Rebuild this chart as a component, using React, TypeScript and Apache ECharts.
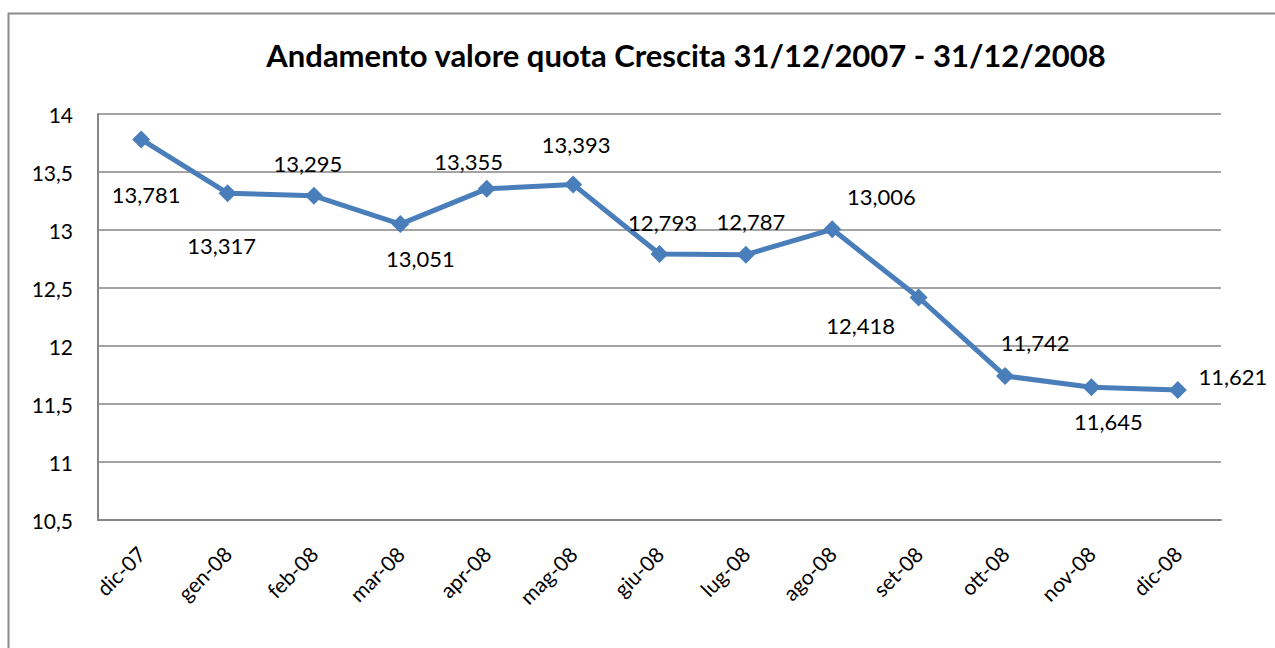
import React, { useEffect, useRef } from "react";
import * as echarts from "echarts";

const categories = ["dic-07","gen-08","feb-08","mar-08","apr-08","mag-08","giu-08","lug-08","ago-08","set-08","ott-08","nov-08","dic-08"];
const values = [13.781,13.317,13.295,13.051,13.355,13.393,12.793,12.787,13.006,12.418,11.742,11.645,11.621];
const labelOffsets: [number, number][] = [
  [5,55],[-6,52],[-6,-32],[20,34],[-18,-27],[3,-40],[3,-32],[5,-33],[49,-33],[-58,28],[30,-33],[17,34],[55,-13]
];
const titleText = "Andamento valore quota Crescita 31/12/2007 - 31/12/2008";
const FONT = "Lato, 'Open Sans', sans-serif";

export default function App() {
  const ref = useRef<HTMLDivElement>(null);
  useEffect(() => {
    const chart = echarts.init(ref.current!, null, { renderer: "svg" });
    chart.setOption({
      animation: false,
      backgroundColor: "#fff",
      title: {
        text: titleText,
        left: 681,
        textAlign: "center",
        top: 34,
        textStyle: { fontFamily: FONT, fontWeight: "bold", fontSize: 31, color: "#000" },
      },
      graphic: [
        { type: "rect", shape: { x: 8.5, y: 13.5, width: 1300, height: 700 }, style: { fill: "none", stroke: "#8c8c8c", lineWidth: 2 }, z: -1 },
      ],
      grid: { left: 98, right: 54, top: 114, bottom: 128, containLabel: false },
      xAxis: {
        type: "category",
        data: categories,
        boundaryGap: true,
        axisLine: { lineStyle: { color: "#868686", width: 2 } },
        axisTick: { show: false },
        axisLabel: { rotate: 45, margin: 30, fontFamily: FONT, fontSize: 21, color: "#000" },
      },
      yAxis: {
        type: "value",
        min: 10.5,
        max: 14,
        interval: 0.5,
        axisLine: { show: true, lineStyle: { color: "#868686", width: 2 } },
        axisTick: { show: false },
        splitLine: { lineStyle: { color: "#868686", width: 1.5 } },
        axisLabel: {
          margin: 25,
          fontFamily: FONT,
          fontSize: 21,
          color: "#000",
          formatter: (v: number) => String(v).replace(".", ","),
        },
      },
      series: [
        {
          type: "line",
          data: values.map((v, i) => ({
            value: v,
            label: { show: true, position: "inside", offset: labelOffsets[i] },
          })),
          symbol: "diamond",
          symbolSize: 18,
          lineStyle: { color: "#4a7ebb", width: 5 },
          itemStyle: { color: "#4a7ebb" },
          label: {
            show: true,
            fontFamily: FONT,
            fontSize: 22,
            color: "#000",
            formatter: (p: any) => p.value.toFixed(3).replace(".", ","),
          },
        },
      ],
    });
    return () => chart.dispose();
  }, []);
  return <div ref={ref} style={{ position: "fixed", left: 0, top: 0, width: 1275, height: 648 }} />;
}
